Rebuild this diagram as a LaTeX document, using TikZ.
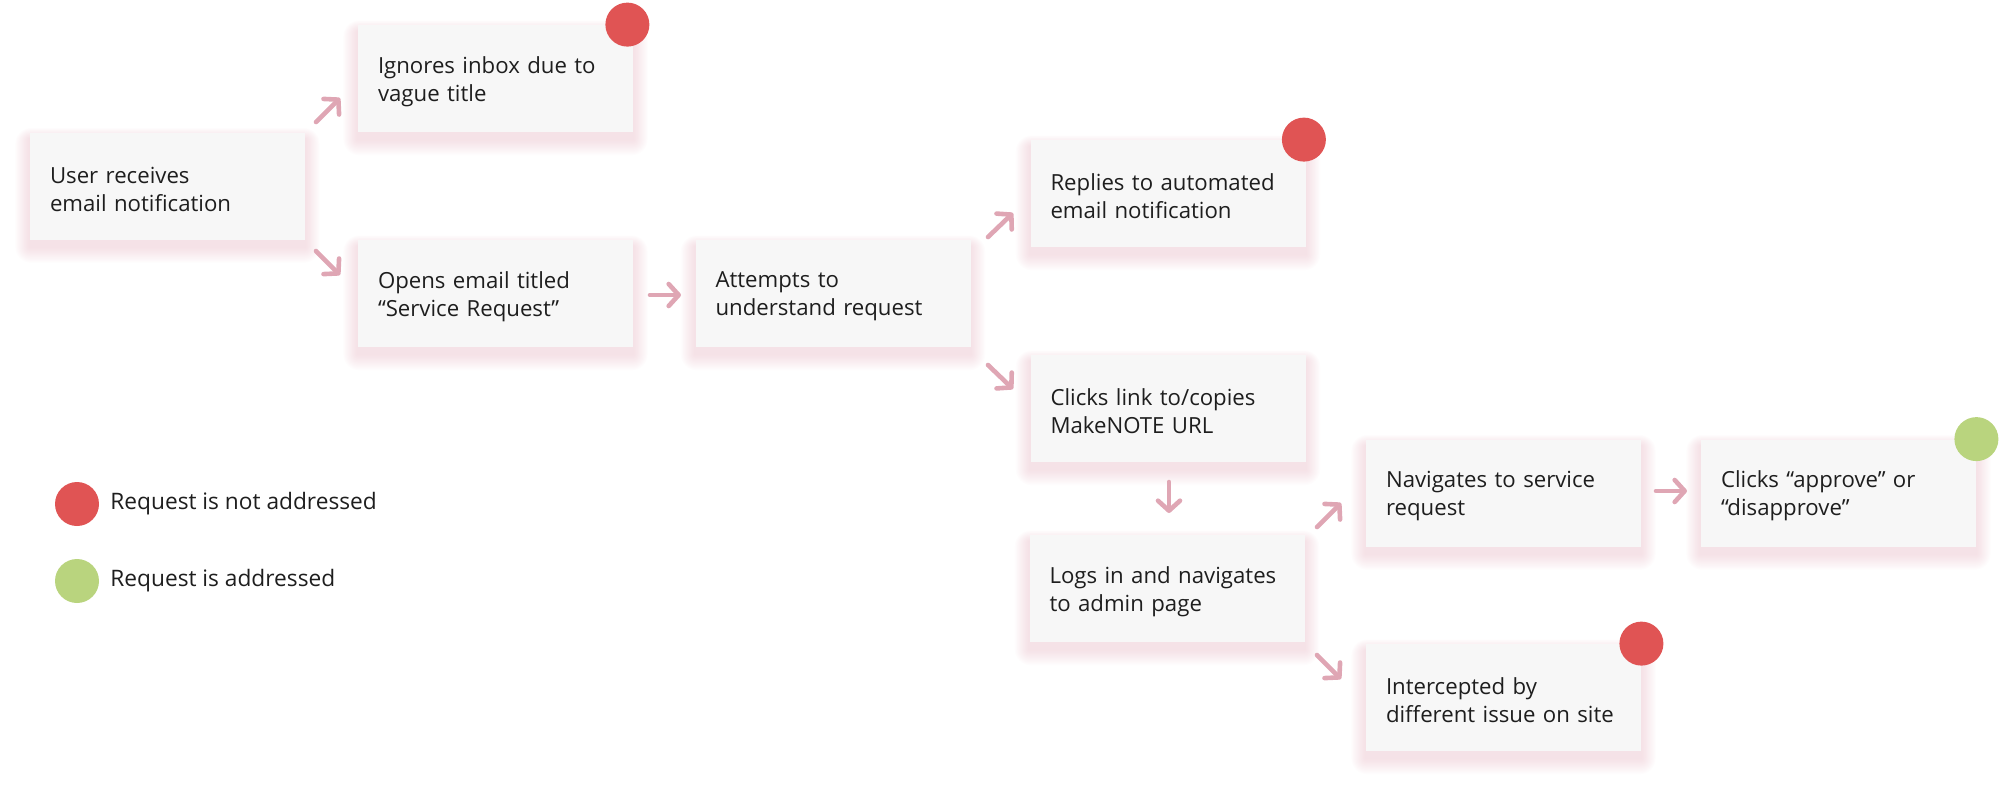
\documentclass[tikz,border=0pt]{standalone}
\usepackage{fontspec}
\setmainfont{Open Sans}
\usetikzlibrary{arrows.meta}
\definecolor{boxfill}{HTML}{F7F7F7}
\definecolor{glowc}{HTML}{E0A2B2}
\definecolor{arrowc}{HTML}{DFA6B4}
\definecolor{redd}{HTML}{E05454}
\definecolor{greend}{HTML}{B9D47E}
\definecolor{txt}{HTML}{1E1E1E}
\pgfdeclarelayer{bg}\pgfsetlayers{bg,main}
\tikzset{
 stepbox/.style={rectangle, fill=boxfill, minimum width=137.5pt, minimum height=53.5pt, inner sep=0pt},
 boxtext/.style={text=txt, text width=117.5pt, align=left, inner sep=0pt, yshift=-1.5pt, font=\fontsize{11.1}{14}\selectfont},
 flow/.style={draw=arrowc, line width=2.3pt, line cap=round, line join=round, -{Straight Barb[length=5pt,width=11pt,line cap=round,line join=round]}},
 dot/.style={circle, minimum size=22pt, inner sep=0pt},
 legendtxt/.style={anchor=west, text=txt, font=\fontsize{11.35}{14}\selectfont, inner sep=0pt},
}
\newcommand\boxglow[1]{%
 \begin{pgfonlayer}{bg}
 \foreach \i in {1,...,16}{
 \fill[glowc, opacity=0.022, rounded corners=\i*0.5pt] ([xshift=-\i*0.45pt, yshift=-\i*0.5pt-3.5pt]#1.south west) rectangle ([xshift=\i*0.45pt, yshift=\i*0.35pt-3.5pt]#1.north east);
 }
 \end{pgfonlayer}}
\begin{document}
\begin{tikzpicture}[x=0.5pt,y=-0.5pt]
\useasboundingbox (0,0) rectangle (2004,784);
% boxes
\node[stepbox, label={[boxtext]center:User receives\\email notification}] (user) at (167.5,186) {};
\node[stepbox, label={[boxtext]center:Ignores inbox due to\\vague title}] (ignores) at (495.5,78.5) {};
\node[stepbox, label={[boxtext]center:Opens email titled\\“Service Request”}] (opens) at (495.5,293.5) {};
\node[stepbox, label={[boxtext]center:Attempts to\\understand request}] (attempts) at (833,293.5) {};
\node[stepbox, label={[boxtext]center:Replies to automated\\email notification}] (replies) at (1168,193.5) {};
\node[stepbox, label={[boxtext]center:Clicks link to/copies\\MakeNOTE URL}] (clicks) at (1168,408.5) {};
\node[stepbox, label={[boxtext]center:Logs in and navigates\\to admin page}] (logs) at (1167,588.5) {};
\node[stepbox, label={[boxtext]center:Navigates to service\\request}] (navigates) at (1503.5,493) {};
\node[stepbox, label={[boxtext]center:Clicks “approve” or\\“disapprove”}] (approve) at (1838.5,493) {};
\node[stepbox, label={[boxtext]center:Intercepted by\\different issue on site}] (intercepted) at (1503.5,697.5) {};
\foreach \n in {user,ignores,opens,attempts,replies,clicks,logs,navigates,approve,intercepted}{\boxglow{\n}}
% status dots
\node[dot, fill=redd] (d1) at ([xshift=-3pt]ignores.north east) {};
\node[dot, fill=redd] (d2) at ([xshift=-1pt]replies.north east) {};
\node[dot, fill=greend] (d3) at (approve.north east) {};
\node[dot, fill=redd] (d4) at (intercepted.north east) {};
% arrow coordinates
\coordinate (a1s) at (316,122); \coordinate (a1e) at (340,98);
\coordinate (a2s) at (316,251); \coordinate (a2e) at (340,275);
\coordinate (a3s) at (650,295); \coordinate (a3e) at (681,295);
\coordinate (a4s) at (988,237); \coordinate (a4e) at (1013,213);
\coordinate (a5s) at (988,365); \coordinate (a5e) at (1013,389);
\coordinate (a6s) at (1169,482); \coordinate (a6e) at (1169,513);
\coordinate (a7s) at (1317,527); \coordinate (a7e) at (1341,503);
\coordinate (a8s) at (1656,491); \coordinate (a8e) at (1687,491);
\coordinate (a9s) at (1317,655); \coordinate (a9e) at (1341,679);
\foreach \k in {1,...,9}{\draw[flow] (a\k s) -- (a\k e);}
% legend
\node[dot, fill=redd] (l1) at (77,504) {};
\node[legendtxt] (l1t) at (110,504) {Request is not addressed};
\node[dot, fill=greend] (l2) at (77,581) {};
\node[legendtxt] (l2t) at (110,581) {Request is addressed};
\end{tikzpicture}
\end{document}
